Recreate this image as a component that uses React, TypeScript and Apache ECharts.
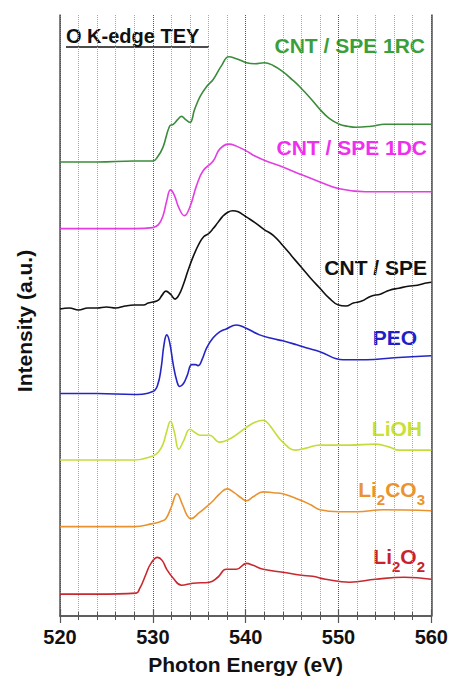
import React, { useEffect, useRef } from "react";
import * as echarts from "echarts";

const xTicks = [520, 530, 540, 550, 560];

const rcEnergy = [520, 524, 528, 530, 530.5, 531.1, 531.8, 532.2, 532.7, 533.1, 533.5, 534.0, 534.5, 535.1, 535.8, 536.5, 537.4, 538.2, 539.0, 540.1, 541.0, 542.0, 543.0, 544.0, 545.0, 545.8, 547.0, 548.0, 549.0, 550.1, 551.0, 551.9, 553.5, 555.0, 557.5, 560];
const rcIntensity = [45.7, 45.7, 45.8, 45.8, 46.2, 47.2, 49.3, 49.5, 50.0, 50.3, 50.0, 49.7, 51.0, 52.3, 53.3, 54.0, 55.4, 56.3, 56.1, 55.7, 55.6, 55.7, 55.4, 54.8, 54.0, 53.3, 52.1, 51.0, 50.1, 49.5, 49.3, 49.2, 49.3, 49.5, 49.5, 49.5];

const dcEnergy = [520, 524, 528, 530, 530.6, 531.1, 531.5, 531.9, 532.3, 532.8, 533.4, 534.0, 534.7, 535.4, 536.5, 537.2, 538.2, 539.0, 540.1, 541.0, 542.2, 544.0, 545.8, 548.0, 550.1, 552.9, 556, 560];
const dcIntensity = [39.0, 39.0, 39.0, 39.1, 39.4, 40.3, 41.8, 42.9, 42.4, 41.1, 40.3, 41.2, 43.3, 44.8, 45.8, 47.0, 47.5, 47.3, 46.8, 46.3, 45.8, 45.2, 44.5, 43.7, 43.0, 42.7, 42.7, 42.7];

const speEnergy = [520, 521, 522, 523, 524, 525, 526, 527, 528, 529, 529.5, 530, 530.6, 531.0, 531.4, 531.9, 532.4, 532.8, 533.3, 533.8, 534.4, 535.0, 535.5, 536.0, 536.5, 537.0, 537.5, 538.0, 538.6, 539.2, 539.7, 540.2, 541.0, 542.0, 543.0, 544.0, 545.0, 546.0, 547.0, 548.0, 549.0, 550.0, 550.8, 551.6, 552.5, 553.5, 554.5, 555.5, 556.5, 557.5, 558.5, 559.3, 560];
const speIntensity = [30.9, 31.0, 30.8, 31.0, 31.0, 31.1, 31.0, 31.2, 31.3, 31.3, 31.5, 31.6, 31.8, 32.3, 32.7, 32.4, 31.9, 32.3, 33.4, 34.8, 36.3, 37.5, 38.2, 38.5, 39.0, 39.6, 40.2, 40.6, 40.8, 40.7, 40.4, 40.1, 39.6, 38.9, 38.3, 37.3, 36.2, 35.1, 34.0, 33.0, 32.0, 31.3, 31.2, 31.5, 31.7, 32.2, 32.4, 32.8, 33.0, 33.2, 33.3, 33.5, 33.6];

const peoEnergy = [520, 524, 528, 530, 530.5, 530.9, 531.2, 531.5, 531.8, 532.2, 532.6, 532.9, 533.3, 533.7, 534.2, 534.6, 534.9, 535.3, 535.8, 536.5, 537.2, 537.9, 539.0, 540.0, 541.5, 543.0, 544.0, 545.5, 546.5, 548.0, 550.5, 553.0, 556.0, 560];
const peoIntensity = [22.4, 22.4, 22.3, 22.6, 23.2, 25.0, 27.3, 28.3, 27.6, 25.3, 23.6, 23.1, 23.4, 24.2, 25.3, 25.3, 25.2, 25.8, 27.0, 28.0, 28.6, 28.9, 29.3, 29.0, 28.3, 27.9, 27.7, 27.3, 27.0, 26.6, 25.8, 25.8, 26.0, 26.2];

const liohEnergy = [520, 524, 528, 530, 530.6, 531.1, 531.5, 531.9, 532.3, 532.8, 533.3, 534.0, 534.5, 535.1, 536.1, 537.2, 538.6, 540.1, 541.0, 541.9, 542.4, 542.9, 544.0, 545.4, 546.5, 548.0, 551.2, 554.0, 555.5, 556.5, 560];
const liohIntensity = [15.7, 15.7, 15.7, 16.1, 16.5, 17.3, 18.6, 19.6, 18.6, 16.8, 17.6, 18.8, 18.5, 18.2, 18.2, 17.5, 18.0, 19.0, 19.5, 19.7, 19.4, 18.8, 17.5, 16.7, 16.9, 17.2, 17.2, 17.3, 17.0, 16.7, 16.7];

const li2co3Energy = [520, 524, 528, 530, 530.8, 531.4, 532.0, 532.6, 533.2, 533.7, 534.1, 535.0, 535.8, 536.5, 537.2, 538.0, 538.8, 539.5, 540.1, 540.8, 541.9, 543.0, 544.0, 545.8, 547.0, 548.0, 550.1, 552.0, 554.8, 560];
const li2co3Intensity = [9.0, 9.0, 9.0, 9.3, 9.5, 9.8, 11.0, 12.3, 11.2, 10.1, 9.8, 10.4, 11.0, 11.6, 12.3, 12.8, 12.4, 11.9, 11.6, 12.0, 12.5, 12.4, 12.3, 11.7, 11.2, 10.7, 10.5, 10.5, 10.7, 10.6];

const li2o2Energy = [520, 524, 528.2, 528.6, 529.0, 529.3, 529.8, 530.5, 531.0, 531.5, 532.2, 533.1, 534.3, 536.1, 537.0, 537.9, 539.0, 540.1, 540.8, 541.9, 544.0, 546.0, 547.2, 548.6, 551.2, 554.0, 557.1, 560];
const li2o2Intensity = [2.2, 2.2, 2.3, 2.8, 3.6, 4.3, 5.3, 5.9, 5.6, 4.7, 3.8, 3.1, 3.3, 3.4, 3.9, 4.7, 4.7, 5.3, 5.1, 4.7, 4.4, 4.1, 4.0, 3.7, 3.4, 3.7, 3.9, 3.7];

const FONT = "Arial, 'Liberation Sans', sans-serif";

const pairs = (xs: number[], ys: number[]) => xs.map((x, i) => [x, ys[i]]);

const spectra = [
  { name: "CNT / SPE 1RC", x: rcEnergy, y: rcIntensity, color: "#3b8c3b" },
  { name: "CNT / SPE 1DC", x: dcEnergy, y: dcIntensity, color: "#e23fe2" },
  { name: "CNT / SPE", x: speEnergy, y: speIntensity, color: "#111111" },
  { name: "PEO", x: peoEnergy, y: peoIntensity, color: "#2525c4" },
  { name: "LiOH", x: liohEnergy, y: liohIntensity, color: "#c6dc3c" },
  { name: "Li2CO3", x: li2co3Energy, y: li2co3Intensity, color: "#e8932f" },
  { name: "Li2O2", x: li2o2Energy, y: li2o2Intensity, color: "#c62a30" },
];

export default function App() {
  const ref = useRef<HTMLDivElement>(null);
  useEffect(() => {
    if (!ref.current) return;
    const chart = echarts.init(ref.current, undefined, { renderer: "svg" });
    const axisLine = { show: true, lineStyle: { color: "#555", width: 1.5 } };
    const labelStyle = (color: string) => ({ fontSize: 21, fontWeight: "bold", fontFamily: FONT, fill: color });
    const subRich = (color: string) => ({
      n: { fontSize: 21, fontWeight: "bold", fontFamily: FONT, fill: color, lineHeight: 22, verticalAlign: "top" },
      s: { fontSize: 15, fontWeight: "bold", fontFamily: FONT, fill: color, lineHeight: 28, verticalAlign: "bottom" },
    });
    chart.setOption({
      animation: false,
      backgroundColor: "#ffffff",
      grid: { left: 60, right: 19, top: 15, bottom: 61, containLabel: false },
      xAxis: [
        {
          type: "value",
          position: "bottom",
          min: 520,
          max: 560,
          interval: 10,
          axisLine,
          axisTick: { show: true, inside: true, length: 7, lineStyle: { color: "#555", width: 1.2 } },
          minorTick: { show: true, splitNumber: 5, length: 4, lineStyle: { color: "#555", width: 1 } },
          splitLine: { show: true, lineStyle: { color: "#555", type: "dotted", width: 1 } },
          minorSplitLine: { show: true, lineStyle: { color: "#a8a8a8", type: "dotted", width: 1 } },
          axisLabel: {
            color: "#111",
            fontSize: 20,
            fontWeight: "bold",
            fontFamily: FONT,
            margin: 11,
            customValues: xTicks,
          },
          name: "Photon Energy (eV)",
          nameLocation: "middle",
          nameGap: 38,
          nameTextStyle: { color: "#111", fontSize: 21, fontWeight: "bold", fontFamily: FONT },
        },
        {
          type: "value",
          position: "top",
          min: 520,
          max: 560,
          interval: 10,
          axisLine,
          axisTick: { show: true, inside: true, length: 7, lineStyle: { color: "#555", width: 1.2 } },
          minorTick: { show: true, splitNumber: 5, length: 4, lineStyle: { color: "#555", width: 1 } },
          splitLine: { show: false },
          axisLabel: { show: false },
        },
      ],
      yAxis: [
        {
          type: "value",
          position: "left",
          min: 0,
          max: 60.5,
          axisLine,
          axisTick: { show: false },
          axisLabel: { show: false },
          splitLine: { show: false },
        },
        {
          type: "value",
          position: "right",
          min: 0,
          max: 60.5,
          axisLine,
          axisTick: { show: false },
          axisLabel: { show: false },
          splitLine: { show: false },
        },
      ],
      series: spectra.map((s) => ({
        name: s.name,
        type: "line",
        data: pairs(s.x, s.y),
        xAxisIndex: 0,
        yAxisIndex: 0,
        smooth: 0.45,
        showSymbol: false,
        symbol: "none",
        lineStyle: { color: s.color, width: 1.6 },
        itemStyle: { color: s.color },
      })),
      graphic: [
        {
          type: "text",
          x: 66,
          y: 36,
          style: { text: "O K-edge TEY", fontSize: 20, fontWeight: "bold", fontFamily: FONT, fill: "#111", textAlign: "left", textVerticalAlign: "middle" },
        },
        { type: "line", shape: { x1: 66, y1: 47, x2: 209, y2: 47 }, style: { stroke: "#111", lineWidth: 1.6 } },
        { type: "text", x: 425, y: 45, style: { text: "CNT / SPE 1RC", ...labelStyle("#3a9e3a"), textAlign: "right", textVerticalAlign: "middle" } },
        { type: "text", x: 427, y: 147, style: { text: "CNT / SPE 1DC", ...labelStyle("#ee30ee"), textAlign: "right", textVerticalAlign: "middle" } },
        { type: "text", x: 427, y: 267, style: { text: "CNT / SPE", ...labelStyle("#111111"), textAlign: "right", textVerticalAlign: "middle" } },
        { type: "text", x: 417, y: 337, style: { text: "PEO", ...labelStyle("#1f1fc8"), textAlign: "right", textVerticalAlign: "middle" } },
        { type: "text", x: 422, y: 428, style: { text: "LiOH", ...labelStyle("#c8e03a"), textAlign: "right", textVerticalAlign: "middle" } },
        {
          type: "text",
          x: 425,
          y: 493,
          style: { text: "{n|Li}{s|2}{n|CO}{s|3}", rich: subRich("#ea9430"), textAlign: "right", textVerticalAlign: "middle" },
        },
        {
          type: "text",
          x: 425,
          y: 560,
          style: { text: "{n|Li}{s|2}{n|O}{s|2}", rich: subRich("#c8232d"), textAlign: "right", textVerticalAlign: "middle" },
        },
        {
          type: "text",
          x: 24,
          y: 321,
          rotation: Math.PI / 2,
          style: { text: "Intensity (a.u.)", fontSize: 21, fontWeight: "bold", fontFamily: FONT, fill: "#111", textAlign: "center", textVerticalAlign: "middle" },
        },
      ],
    });
    return () => chart.dispose();
  }, []);
  return <div ref={ref} style={{ width: 451, height: 680, position: "absolute", left: 0, top: 0 }} />;
}
